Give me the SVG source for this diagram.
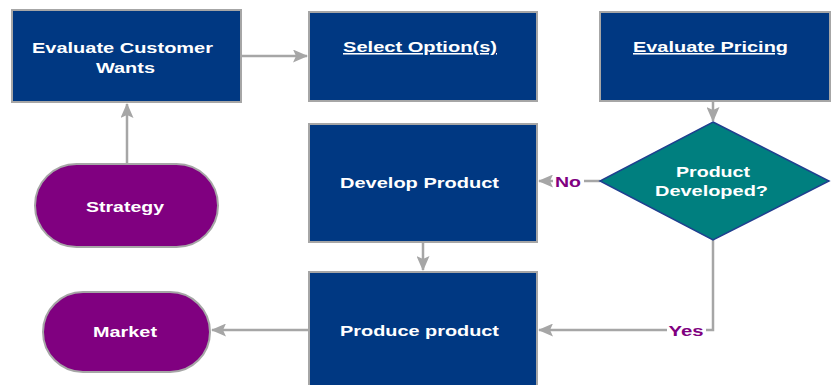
<svg xmlns="http://www.w3.org/2000/svg" width="835" height="385" viewBox="0 0 835 385">
<style>
.box{fill:#003882;stroke:#A6A6A6;stroke-width:2}
.pill{fill:#800080;stroke:#A6A6A6;stroke-width:2}
.dia{fill:#007F7F;stroke:#1F3F8F;stroke-width:1.5}
.t{font-family:"Liberation Sans",Arial,sans-serif;font-weight:bold;font-size:15.5px;fill:#fff;text-anchor:middle}
.u{text-decoration:underline}
.lbl{font-family:"Liberation Sans",Arial,sans-serif;font-weight:bold;font-size:15.5px;fill:#800080;text-anchor:middle}
.c{fill:none;stroke:#A6A6A6;stroke-width:2.5}
</style>
<defs>
<marker id="ah" markerWidth="15" markerHeight="13" refX="14" refY="6.5" orient="auto" markerUnits="userSpaceOnUse">
<path d="M0,0 L15,6.5 L0,13 L3,6.5 z" fill="#A6A6A6"/>
</marker>
</defs>
<g id="connectors">
<path class="c" d="M241,56 L307,56" marker-end="url(#ah)"/>
<path class="c" d="M127,164 L127,104" marker-end="url(#ah)"/>
<path class="c" d="M713,101 L713,121" marker-end="url(#ah)"/>
<path class="c" d="M600,181 L584,181"/>
<path class="c" d="M553,181 L539,181" marker-end="url(#ah)"/>
<path class="c" d="M423,242 L423,270" marker-end="url(#ah)"/>
<path class="c" d="M713,240 L713,330 L706,330"/>
<path class="c" d="M667,330 L539,330" marker-end="url(#ah)"/>
<path class="c" d="M309,330 L212,330" marker-end="url(#ah)"/>
<text class="lbl" x="568" y="187" textLength="26" lengthAdjust="spacingAndGlyphs">No</text>
<text class="lbl" x="686" y="336" textLength="35" lengthAdjust="spacingAndGlyphs">Yes</text>
</g>
<g id="evaluate-customer-wants">
<rect class="box" x="12" y="10" width="229" height="92"/>
<text class="t" x="122.5" y="53" textLength="181" lengthAdjust="spacingAndGlyphs">Evaluate Customer</text>
<text class="t" x="125.5" y="73" textLength="59" lengthAdjust="spacingAndGlyphs">Wants</text>
</g>
<g id="select-options">
<rect class="box" x="309" y="12" width="228" height="89"/>
<text class="t u" x="420" y="52" textLength="154" lengthAdjust="spacingAndGlyphs">Select Option(s)</text>
</g>
<g id="evaluate-pricing">
<rect class="box" x="600" y="12" width="230" height="89"/>
<text class="t u" x="710.5" y="52" textLength="155" lengthAdjust="spacingAndGlyphs">Evaluate Pricing</text>
</g>
<g id="product-developed">
<polygon class="dia" points="713,122 829,181 713,240 600,181"/>
<text class="t" x="713" y="177" textLength="74" lengthAdjust="spacingAndGlyphs">Product</text>
<text class="t" x="711.5" y="196" textLength="113" lengthAdjust="spacingAndGlyphs">Developed?</text>
</g>
<g id="develop-product">
<rect class="box" x="309" y="124" width="228" height="118"/>
<text class="t" x="419.5" y="188" textLength="159" lengthAdjust="spacingAndGlyphs">Develop Product</text>
</g>
<g id="produce-product">
<rect class="box" x="309" y="272" width="228" height="120"/>
<text class="t" x="419.5" y="336" textLength="159" lengthAdjust="spacingAndGlyphs">Produce product</text>
</g>
<g id="strategy">
<rect class="pill" x="35" y="164" width="183" height="83" rx="41.5" ry="41.5"/>
<text class="t" x="125" y="212" textLength="78" lengthAdjust="spacingAndGlyphs">Strategy</text>
</g>
<g id="market">
<rect class="pill" x="43" y="292" width="167" height="80" rx="40" ry="40"/>
<text class="t" x="125" y="337" textLength="64" lengthAdjust="spacingAndGlyphs">Market</text>
</g>
</svg>
